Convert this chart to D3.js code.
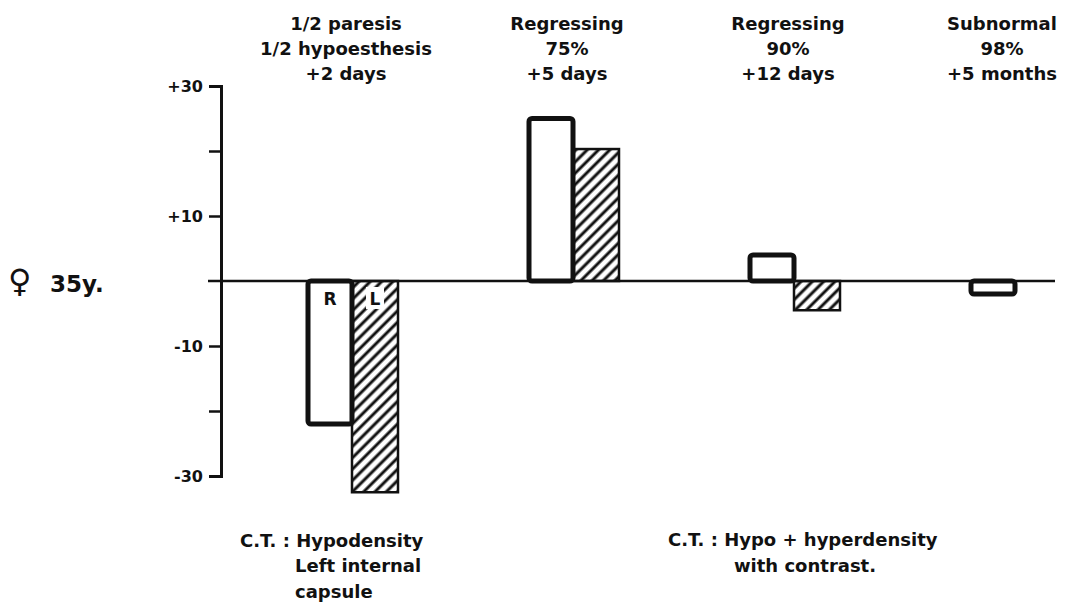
<!DOCTYPE html>
<html>
<head>
<meta charset="utf-8">
<script src="https://cdn.jsdelivr.net/npm/d3@7"></script>
<style>
  body { margin: 0; background: #fff; }
  text { font-family: "DejaVu Sans", sans-serif; font-weight: bold; fill: #111; }
</style>
</head>
<body>
<div id="chart"></div>
<script>
// values (units of the y axis)
var groups = ["day2", "day5", "day12", "month5"]
var sides = ["R", "L"]
var rightValues = [-22, 25, 4, -2]
var leftValues = [-32.5, 20.3, -4.5, 0]
var headings = [
  ["1/2 paresis", "1/2 hypoesthesis", "+2 days"],
  ["Regressing", "75%", "+5 days"],
  ["Regressing", "90%", "+12 days"],
  ["Subnormal", "98%", "+5 months"]
]
var tickValues = [30, 20, 10, -10, -20, -30]
var tickLabels = ["+30", "", "+10", "-10", "", "-30"]
var notes = [
  { lines: ["C.T. : Hypodensity", "Left internal", "capsule"] },
  { lines: ["C.T. : Hypo + hyperdensity", "with contrast."] }
]

var chartWidth = 1077
var chartHeight = 610
var ink = "#111"

var svg = d3.select("#chart")
  .append("svg")
  .attr("width", chartWidth)
  .attr("height", chartHeight)

// hatch for the left side bars
svg.append("defs").append("pattern")
  .attr("id", "hatch")
  .attr("patternUnits", "userSpaceOnUse")
  .attr("width", 8)
  .attr("height", 8)
  .attr("patternTransform", "rotate(45)")
  .append("line")
  .attr("x1", 4).attr("y1", 0)
  .attr("x2", 4).attr("y2", 8)
  .attr("stroke", ink)
  .attr("stroke-width", 3)

var y = d3.scaleLinear()
  .domain([-30, 30])
  .range([476, 86])

var x = d3.scalePoint()
  .domain(groups)
  .range([352, 1015])

var xSide = d3.scaleBand()
  .domain(sides)
  .range([-46, 46])

// y axis
var axis = d3.axisLeft(y)
  .tickValues(tickValues)
  .tickSize(12)
  .tickSizeOuter(12)
  .tickPadding(6)
  .tickFormat(function(d, i) { return tickLabels[i] })

var gAxis = svg.append("g")
  .attr("transform", "translate(221,0)")
  .call(axis)
gAxis.select(".domain").attr("stroke", ink).attr("stroke-width", 3)
gAxis.selectAll(".tick line").attr("stroke", ink).attr("stroke-width", 2.5)
gAxis.selectAll(".tick text")
  .attr("font-size", 16)
  .attr("font-family", "DejaVu Sans, sans-serif")
  .attr("font-weight", "bold")
  .attr("fill", ink)

// zero line
svg.append("line")
  .attr("x1", 208).attr("x2", 1055)
  .attr("y1", y(0)).attr("y2", y(0))
  .attr("stroke", ink)
  .attr("stroke-width", 2.5)

var bars = groups.map(function(g, i) {
  return [
    { group: g, side: "R", value: rightValues[i] },
    { group: g, side: "L", value: leftValues[i] }
  ]
})

var barG = svg.selectAll(".grp")
  .data(bars)
  .enter()
  .append("g")
  .attr("class", "grp")
  .attr("transform", function(d, i) { return "translate(" + x(groups[i]) + ",0)" })

// hatched L bars first so R outlines sit on top
barG.selectAll(".lbar")
  .data(function(d) { return d.filter(function(b) { return b.side == "L" && b.value != 0 }) })
  .enter()
  .append("rect")
  .attr("class", "lbar")
  .attr("x", function(d) { return xSide(d.side) })
  .attr("width", xSide.bandwidth())
  .attr("y", function(d) { return y(Math.max(0, d.value)) })
  .attr("height", function(d) { return Math.abs(y(d.value) - y(0)) })
  .attr("fill", "url(#hatch)")
  .attr("stroke", ink)
  .attr("stroke-width", 2.5)

barG.selectAll(".rbar")
  .data(function(d) { return d.filter(function(b) { return b.side == "R" }) })
  .enter()
  .append("rect")
  .attr("class", "rbar")
  .attr("x", function(d) { return xSide(d.side) + 2 })
  .attr("width", xSide.bandwidth() - 2)
  .attr("y", function(d) { return y(Math.max(0, d.value)) })
  .attr("height", function(d) { return Math.abs(y(d.value) - y(0)) })
  .attr("rx", 3)
  .attr("fill", "#fff")
  .attr("stroke", ink)
  .attr("stroke-width", 5)

// R / L markers in the first pair
var first = x(groups[0])
svg.append("rect")
  .attr("x", first + xSide("L") + 14)
  .attr("y", y(0) + 6)
  .attr("width", 18)
  .attr("height", 22)
  .attr("fill", "#fff")
svg.append("text")
  .attr("x", first + xSide("R") + xSide.bandwidth() / 2 + 1)
  .attr("y", y(0) + 24)
  .attr("text-anchor", "middle")
  .attr("font-size", 17)
  .text("R")
svg.append("text")
  .attr("x", first + xSide("L") + xSide.bandwidth() / 2)
  .attr("y", y(0) + 24)
  .attr("text-anchor", "middle")
  .attr("font-size", 17)
  .text("L")

// headings over each pair
headings.forEach(function(lines, i) {
  var cx = Math.min(x(groups[i]) - 6, chartWidth - 75)
  var t = svg.append("text")
    .attr("text-anchor", "middle")
    .attr("font-size", 18)
  lines.forEach(function(s, j) {
    t.append("tspan")
      .attr("x", cx)
      .attr("y", 30 + j * 25)
      .text(s)
  })
})

// subject label
var subj = svg.append("text")
  .attr("x", 8)
  .attr("y", y(0) + 11)
subj.append("tspan").attr("font-size", 32).attr("font-weight", "normal").text("\u2640")
subj.append("tspan").attr("x", 50).attr("font-size", 23).text("35y.")

// CT notes under the chart
var n1 = svg.append("text").attr("font-size", 18)
n1.append("tspan").attr("x", 240).attr("y", 547).text(notes[0].lines[0])
n1.append("tspan").attr("x", 295).attr("y", 572).text(notes[0].lines[1])
n1.append("tspan").attr("x", 295).attr("y", 598).text(notes[0].lines[2])

var n2 = svg.append("text").attr("font-size", 18)
n2.append("tspan").attr("x", 668).attr("y", 546).text(notes[1].lines[0])
n2.append("tspan").attr("x", 805).attr("y", 572).attr("text-anchor", "middle").text(notes[1].lines[1])
</script>
</body>
</html>
